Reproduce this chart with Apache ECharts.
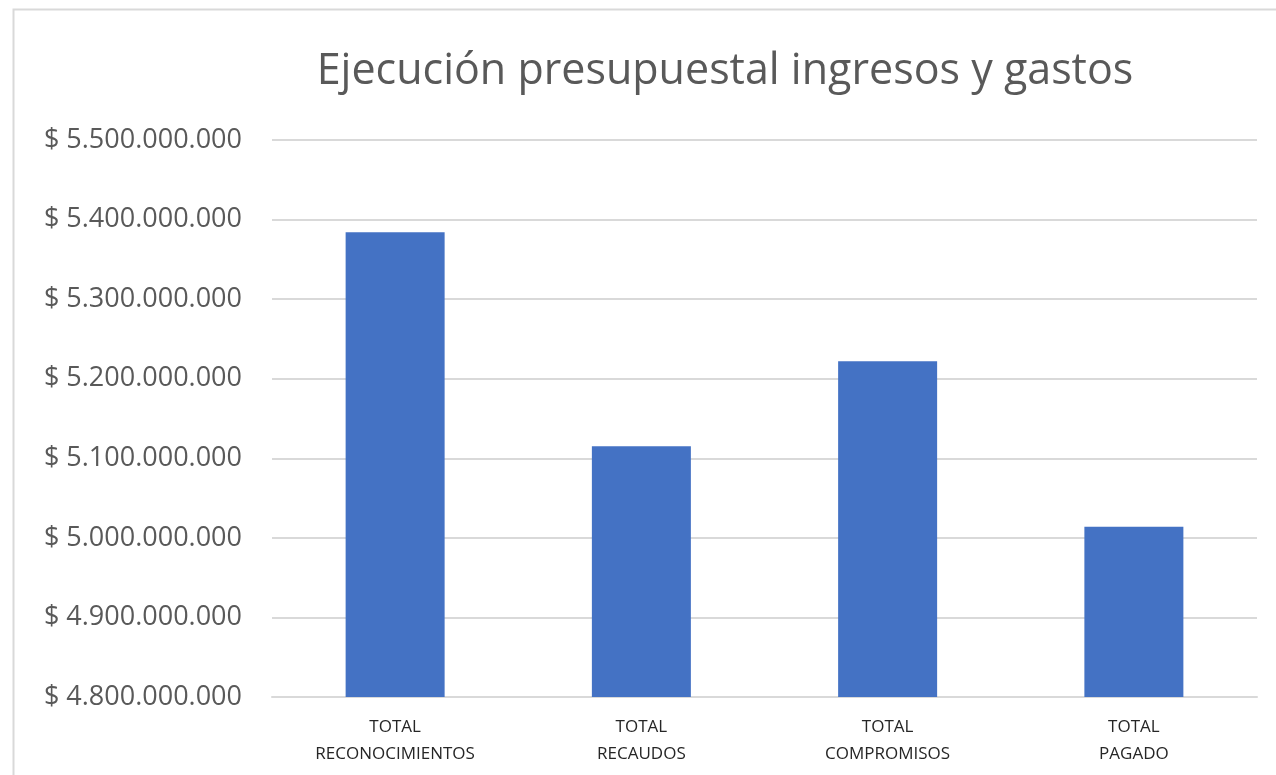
<!DOCTYPE html>
<html>
<head>
<meta charset="utf-8">
<script src="https://cdn.jsdelivr.net/npm/echarts@6/dist/echarts.min.js"></script>
<style>
  html, body { margin: 0; padding: 0; background: #fff; }
  #chart { width: 1276px; height: 775px; }
</style>
</head>
<body>
<div id="chart"></div>
<script>
const categories = ['TOTAL\nRECONOCIMIENTOS', 'TOTAL\nRECAUDOS', 'TOTAL\nCOMPROMISOS', 'TOTAL\nPAGADO']
const values = [5384000000, 5115000000, 5222000000, 5014000000]
const yMin = 4800000000
const yMax = 5500000000
const yStep = 100000000

const fmt = v => '$ ' + String(Math.round(v)).replace(/\B(?=(\d{3})+(?!\d))/g, '.')

const chart = echarts.init(document.getElementById('chart'))

chart.setOption({
  backgroundColor: '#fff',
  textStyle: { fontFamily: 'Open Sans' },
  graphic: [{
    type: 'rect',
    left: 11, top: 7,
    shape: { width: 1300, height: 820 },
    style: { fill: 'none', stroke: '#d9d9d9', lineWidth: 2 },
    silent: true
  }],
  title: {
    text: 'Ejecución presupuestal ingresos y gastos',
    left: 720,
    top: 45,
    textAlign: 'center',
    textStyle: { fontSize: 43, fontWeight: 'normal', color: '#595959', fontFamily: 'Open Sans' }
  },
  grid: { left: 272, right: 19, top: 140, bottom: 78 },
  xAxis: {
    type: 'category',
    data: categories,
    axisLine: { lineStyle: { color: '#d9d9d9', width: 2 } },
    axisTick: { show: false },
    axisLabel: {
      margin: 17,
      fontSize: 17,
      lineHeight: 27,
      color: '#262626',
      interval: 0
    }
  },
  yAxis: {
    type: 'value',
    min: yMin,
    max: yMax,
    interval: yStep,
    axisLine: { show: false },
    axisTick: { show: false },
    axisLabel: { margin: 30, fontSize: 27, color: '#595959', formatter: fmt },
    splitLine: { lineStyle: { color: '#d9d9d9', width: 2 } }
  },
  series: [{
    type: 'bar',
    data: values,
    barWidth: 99,
    itemStyle: { color: '#4472C4' },
    silent: true
  }]
})
</script>
</body>
</html>
